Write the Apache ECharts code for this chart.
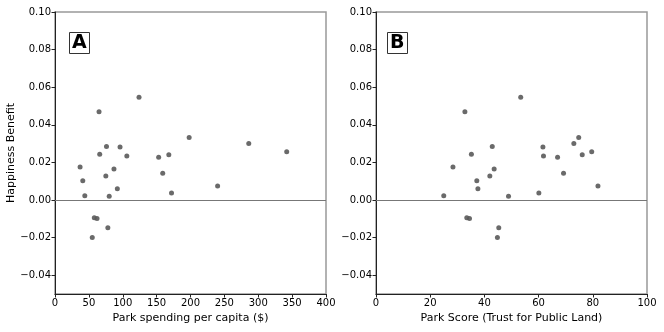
<!DOCTYPE html>
<html>
<head>
<meta charset="utf-8">
<script src="https://cdn.jsdelivr.net/npm/echarts@6/dist/echarts.min.js"></script>
<style>
  html, body { margin: 0; padding: 0; background: #fff; }
  #chart { width: 664px; height: 332px; }
</style>
</head>
<body>
<div id="chart"></div>
<script>
// happiness benefit per city (same order in both panels)
const benefit = [0.0176, 0.0103, 0.0023, 0.0470, 0.0243, 0.0284, 0.0128, 0.0165, 0.0060, 0.0020,
  0.0282, 0.0234, 0.0547, 0.0227, 0.0241, 0.0142, 0.0037, 0.0332, 0.0075, 0.0300,
  0.0257, -0.0094, -0.0099, -0.0147, -0.0199];
const spending = [37, 41, 44, 65, 66, 76, 75, 87, 92, 80,
  96, 106, 124, 153, 168, 159, 172, 198, 240, 286,
  342, 58, 62, 78, 55];
const parkScore = [28.4, 37.2, 25.0, 32.8, 35.2, 42.9, 42.0, 43.6, 37.6, 48.9,
  61.6, 61.8, 53.4, 67.0, 76.1, 69.2, 60.1, 74.8, 81.9, 73.0,
  79.6, 33.5, 34.5, 45.3, 44.8];
const yTicks = [-0.04, -0.02, 0.00, 0.02, 0.04, 0.06, 0.08, 0.10];

const chart = echarts.init(document.getElementById('chart'));

function fmtY(v) {
  return v < 0 ? '\u2212' + Math.abs(v).toFixed(2) : v.toFixed(2);
}

function xAx(idx, max, interval, name) {
  return {
    type: 'value', gridIndex: idx, min: 0, max: max, interval: interval,
    name: name, nameLocation: 'middle', nameGap: 19,
    nameTextStyle: { fontFamily: 'DejaVu Sans', fontSize: 11, color: '#000' },
    axisLine: { show: true, onZero: false, lineStyle: { color: '#222', width: 1 } },
    axisTick: { show: true, inside: false, length: 3.5, lineStyle: { color: '#222' } },
    axisLabel: { fontFamily: 'DejaVu Sans', fontSize: 10, color: '#000', margin: 4 },
    splitLine: { show: false }
  };
}

function yAx(idx, name) {
  return {
    type: 'value', gridIndex: idx, min: -0.05, max: 0.10,
    name: name, nameLocation: 'middle', nameGap: 37,
    nameTextStyle: { fontFamily: 'DejaVu Sans', fontSize: 11, color: '#000' },
    axisLine: { show: true, onZero: false, lineStyle: { color: '#222', width: 1 } },
    axisTick: { show: true, inside: false, length: 3.5, customValues: yTicks, lineStyle: { color: '#222' } },
    axisLabel: { fontFamily: 'DejaVu Sans', fontSize: 10, color: '#000', margin: 4,
      customValues: yTicks, formatter: fmtY },
    splitLine: { show: false }
  };
}

function series(idx, xs) {
  return {
    type: 'scatter', xAxisIndex: idx, yAxisIndex: idx,
    data: xs.map((x, i) => [x, benefit[i]]),
    symbolSize: 5,
    itemStyle: { color: '#5a5a5a', opacity: 0.9 },
    markLine: {
      silent: true, symbol: 'none', label: { show: false },
      lineStyle: { color: '#777', width: 1, type: 'solid' },
      data: [{ yAxis: 0 }]
    }
  };
}

const option = {
  animation: false,
  grid: [
    { left: 55, right: 338, top: 12, bottom: 38, show: true, borderColor: '#999', borderWidth: 1.5 },
    { left: 376, right: 17, top: 12, bottom: 38, show: true, borderColor: '#999', borderWidth: 1.5 }
  ],
  title: [
    { text: 'A', left: 69, top: 32, padding: [2, 3, 1, 3], borderColor: '#333', borderWidth: 1,
      textStyle: { fontFamily: 'DejaVu Sans', fontWeight: 'bold', fontSize: 19, color: '#000' } },
    { text: 'B', left: 387, top: 32, padding: [2, 3, 1, 3], borderColor: '#333', borderWidth: 1,
      textStyle: { fontFamily: 'DejaVu Sans', fontWeight: 'bold', fontSize: 19, color: '#000' } }
  ],
  xAxis: [
    xAx(0, 400, 50, 'Park spending per capita ($)'),
    xAx(1, 100, 20, 'Park Score (Trust for Public Land)')
  ],
  yAxis: [yAx(0, 'Happiness Benefit'), yAx(1, '')],
  series: [series(0, spending), series(1, parkScore)]
};

chart.setOption(option);
</script>
</body>
</html>
